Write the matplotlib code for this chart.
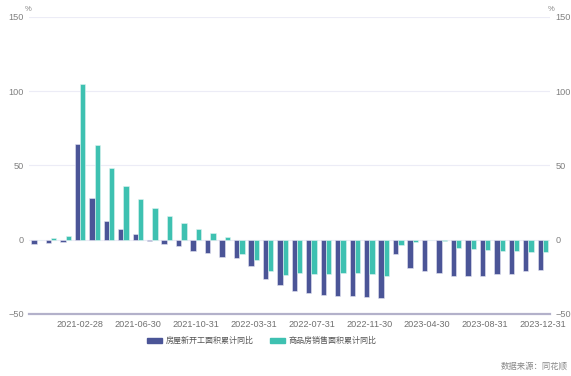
import numpy as np
import matplotlib
matplotlib.use("Agg")
import matplotlib.pyplot as plt
from matplotlib.patches import Patch

plt.rcParams['font.family'] = ['Liberation Sans', 'Noto Sans CJK SC']

# monthly, no January (Jan-Feb reported together)
dates = ['2020-10-31', '2020-11-30', '2020-12-31',
         '2021-02-28', '2021-03-31', '2021-04-30', '2021-05-31', '2021-06-30', '2021-07-31',
         '2021-08-31', '2021-09-30', '2021-10-31', '2021-11-30', '2021-12-31',
         '2022-02-28', '2022-03-31', '2022-04-30', '2022-05-31', '2022-06-30', '2022-07-31',
         '2022-08-31', '2022-09-30', '2022-10-31', '2022-11-30', '2022-12-31',
         '2023-02-28', '2023-03-31', '2023-04-30', '2023-05-31', '2023-06-30', '2023-07-31',
         '2023-08-31', '2023-09-30', '2023-10-31', '2023-11-30', '2023-12-31']

new_start = [-2.7, -2.2, -1.3,
             64.3, 28.2, 12.8, 6.9, 3.8, -0.9, -3.2, -4.5, -7.7, -9.1, -11.4,
             -12.2, -17.5, -26.3, -30.6, -34.4, -36.1, -37.2, -38.0, -37.8, -38.9, -39.4,
             -9.4, -19.2, -21.2, -22.6, -24.3, -24.5, -24.4, -23.4, -23.2, -21.2, -20.4]

sales_area = [0.0, 1.3, 2.6,
              104.9, 63.8, 48.1, 36.3, 27.7, 21.5, 15.9, 11.3, 7.2, 4.8, 1.9,
              -9.6, -13.8, -20.9, -23.6, -22.2, -23.1, -23.0, -22.2, -22.3, -23.3, -24.3,
              -3.6, -1.8, -0.4, -0.9, -5.3, -6.5, -7.1, -7.5, -7.8, -8.0, -8.5]

label_names = ['房屋新开工面积累计同比', '商品房销售面积累计同比']
c_blue = '#4b5597'
c_teal = '#3ec1b1'

fig = plt.figure(figsize=(5.71, 3.76), dpi=100)
ax = fig.add_axes([0.0515, 0.165, 0.912, 0.79])

x = np.arange(len(dates))
w = 0.37
ax.bar(x - w/2, new_start, w, color=c_blue, edgecolor='#e6e6f2', linewidth=0.4, zorder=3)
ax.bar(x + w/2, sales_area, w, color=c_teal, edgecolor='#e0f4f1', linewidth=0.4, zorder=3)

ax.set_xlim(-0.5, len(dates) - 0.5)
ax.set_ylim(-50, 150)
ax.set_yticks([-50, 0, 50, 100, 150])
ax.grid(axis='y', color='#ececf6', linewidth=0.8, zorder=0)
for s in ['top', 'right', 'left']:
    ax.spines[s].set_visible(False)
ax.spines['bottom'].set_color('#b3b1ca')
ax.spines['bottom'].set_linewidth(1.6)

idx = list(range(3, len(dates), 4))
ax.set_xticks(idx)
ax.set_xticklabels([dates[i] for i in idx])
ax.tick_params(axis='x', length=0, labelsize=6.6, colors='#707070', pad=4)
ax.tick_params(axis='y', length=0, labelsize=6.6, colors='#808080', pad=4)

ax2 = ax.twinx()
ax2.set_ylim(-50, 150)
ax2.set_yticks([-50, 0, 50, 100, 150])
for s in ['top', 'right', 'left', 'bottom']:
    ax2.spines[s].set_visible(False)
ax2.tick_params(axis='y', length=0, labelsize=6.6, colors='#808080', pad=4)

fig.text(0.049, 0.985, '%', fontsize=5.5, color='#888888', ha='center', va='top')
fig.text(0.965, 0.985, '%', fontsize=5.5, color='#888888', ha='center', va='top')

handles = [Patch(color=c_blue), Patch(color=c_teal)]
fig.legend(handles, label_names, loc='center', bbox_to_anchor=(0.458, 0.093), ncol=2,
           frameon=False, fontsize=5.8, handlelength=1.9, handleheight=0.6,
           handletextpad=0.4, columnspacing=2.0, labelcolor='#555555')

fig.text(0.995, 0.015, '数据来源：同花顺', fontsize=6.0, color='#888888', ha='right', va='bottom')

fig.savefig('out.png', dpi=100)
